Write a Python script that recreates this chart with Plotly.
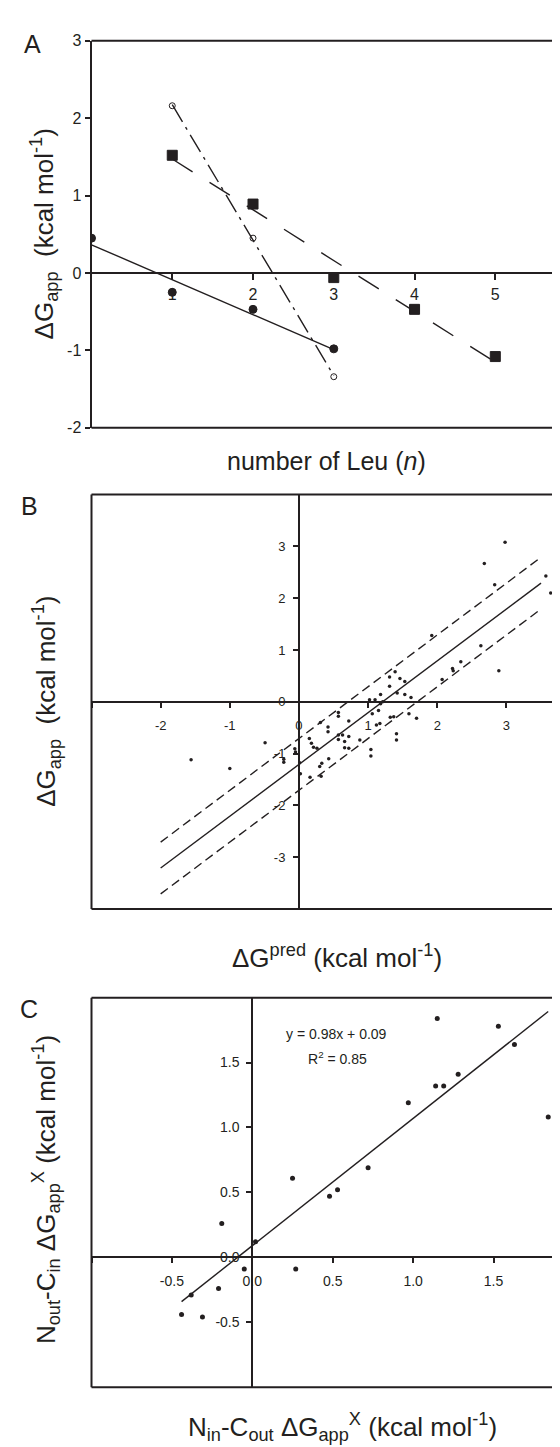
import numpy as np
import plotly.graph_objects as go

# ---------------- data ----------------
# Panel A: number of Leu vs dG_app, three series
A1_n = [0, 1, 2, 3]
A1_dg = [0.45, -0.25, -0.47, -0.98]
A2_n = [1, 2, 3]
A2_dg = [2.16, 0.45, -1.34]
A3_n = [1, 2, 3, 4, 5]
A3_dg = [1.52, 0.89, -0.06, -0.47, -1.08]
A_xticks = [1, 2, 3, 4, 5]
A_xticklabels = ["1", "2", "3", "4", "5"]
A_yticks = [-2, -1, 0, 1, 2, 3]
A_yticklabels = ["-2", "-1", "0", "1", "2", "3"]

# Panel B: dG_pred vs dG_app
B_pred = [2.98, 2.68, 2.83, 3.57, 3.64, 1.92, 2.63, 2.89, 2.34, 2.22, 2.23, 2.07,
          1.39, 1.31, 1.46, 1.53, 1.31, 1.42, 1.53, 1.62, 1.18, 1.02, 1.10, 1.21, 1.18,
          1.06, 1.15, 1.12, 1.17, 1.32, 1.37, 1.41, 1.41, 1.59, 1.70,
          1.04, 1.04, 0.88,
          0.57, 0.57, 0.31, 0.42, 0.42, 0.72,
          0.57, 0.57, 0.63, 0.66, 0.72, 0.66, 0.72,
          0.15, 0.18, 0.21, 0.26,
          -0.06, -0.05, -0.22, -0.22, -0.49, -1.00, -1.56,
          0.01, 0.02, 0.16, 0.30, 0.32, 0.33, 0.43]
B_app = [3.08, 2.67, 2.26, 2.43, 2.10, 1.28, 1.08, 0.60, 0.77, 0.64, 0.60, 0.43,
         0.58, 0.48, 0.45, 0.39, 0.30, 0.17, 0.14, 0.08, 0.14, 0.04, 0.04, 0.00, -0.04,
         -0.23, -0.17, -0.45, -0.42, -0.30, -0.29, -0.62, -0.74, -0.23, -0.32,
         -0.92, -1.05, -0.74,
         -0.21, -0.28, -0.40, -0.49, -0.58, -0.37,
         -0.64, -0.73, -0.64, -0.77, -0.67, -0.89, -0.90,
         -0.71, -0.80, -0.88, -0.90,
         -0.91, -0.97, -1.11, -1.17, -0.79, -1.29, -1.12,
         -1.18, -1.39, -1.46, -1.25, -1.44, -1.19, -1.10]
B_fit_x = [-2.0, 3.5]
B_fit_slope = 1.0
B_fit_intercept = -1.21
B_band = 0.5
B_xticks = [-3, -2, -1, 0, 1, 2, 3]
B_xticklabels = ["", "-2", "-1", "0", "1", "2", "3"]
B_yticks = [-3, -2, -1, 0, 1, 2, 3]
B_yticklabels = ["-3", "-2", "-1", "0", "1", "2", "3"]

# Panel C: Nin-Cout vs Nout-Cin dG_app^X
C_x = [1.15, 1.53, 1.63, 1.28, 1.14, 1.19, 0.97, 1.84, 0.72, 0.25, 0.53, 0.48,
       -0.19, 0.02, -0.05, 0.27, -0.21, -0.38, -0.44, -0.31]
C_y = [1.84, 1.78, 1.64, 1.41, 1.32, 1.32, 1.19, 1.08, 0.69, 0.61, 0.52, 0.47,
       0.26, 0.12, -0.09, -0.09, -0.24, -0.29, -0.44, -0.46]
C_fit_x = [-0.44, 1.84]
C_fit_slope = 0.98
C_fit_intercept = 0.09
C_xticks = [-1.0, -0.5, 0.0, 0.5, 1.0, 1.5]
C_xticklabels = ["", "-0.5", "0.0", "0.5", "1.0", "1.5"]
C_yticks = [-0.5, 0.0, 0.5, 1.0, 1.5]
C_yticklabels = ["-0.5", "0.0", "0.5", "1.0", "1.5"]

# ---------------- layout helpers ----------------
W, H = 560, 1447
INK = "#231f20"
FONT = "Liberation Sans"


def px_x(p):
    return p / W


def px_y(p):
    return 1 - p / H


def zero_pos(dom, rng, v=0.0):
    return dom[0] + (v - rng[0]) / (rng[1] - rng[0]) * (dom[1] - dom[0])


# panel geometry (pixels)
A_xdom = [px_x(83.5), 1.0]
A_ydom = [px_y(416.7), px_y(25)]
A_xr = [0, 5.9]
A_yr = [-2, 3]

B_xdom = [px_x(83.5), 1.0]
B_ydom = [px_y(903.5), px_y(484.3)]
B_xr = [-3, 3.89]
B_yr = [-4, 4]

C_xdom = [px_x(83.5), 1.0]
C_ydom = [px_y(1387.5), px_y(993.3)]
C_xr = [-1, 1.963]
C_yr = [-1, 2]

fig = go.Figure()

# ---------------- Panel A ----------------
def fit_line(xs, ys):
    k, b = np.polyfit(xs, ys, 1)
    xx = np.array([min(xs), max(xs)], dtype=float)
    return xx, k * xx + b

for xs, ys, sym, size, dash in [
    (A1_n, A1_dg, "circle", 8, "solid"),
    (A2_n, A2_dg, "circle-open", 6, "20px,6px,3px,6px"),
    (A3_n, A3_dg, "square", 10, "24px,20px"),
]:
    lx, ly = fit_line(xs, ys)
    fig.add_trace(go.Scatter(x=lx, y=ly, mode="lines", xaxis="x", yaxis="y",
                             line=dict(color=INK, width=1.4, dash=dash),
                             hoverinfo="skip"))
    fig.add_trace(go.Scatter(x=xs, y=ys, mode="markers", xaxis="x", yaxis="y",
                             marker=dict(symbol=sym, size=size, color=INK,
                                         line=dict(color=INK, width=1))))

# ---------------- Panel B ----------------
bx = np.array(B_fit_x)
for off, dash in [(0, "solid"), (B_band, "9px,5px"), (-B_band, "9px,5px")]:
    fig.add_trace(go.Scatter(x=bx, y=B_fit_slope * bx + B_fit_intercept + off,
                             mode="lines", xaxis="x2", yaxis="y2",
                             line=dict(color=INK, width=1.4, dash=dash)))
fig.add_trace(go.Scatter(x=B_pred, y=B_app, mode="markers", xaxis="x2", yaxis="y2",
                         marker=dict(size=3.5, color=INK)))

# ---------------- Panel C ----------------
cx = np.array(C_fit_x)
fig.add_trace(go.Scatter(x=cx, y=C_fit_slope * cx + C_fit_intercept, mode="lines",
                         xaxis="x3", yaxis="y3", line=dict(color=INK, width=1.4)))
fig.add_trace(go.Scatter(x=C_x, y=C_y, mode="markers", xaxis="x3", yaxis="y3",
                         marker=dict(size=5, color=INK)))

# ---------------- axes ----------------
axcommon = dict(showgrid=False, zeroline=False, showline=True, linecolor=INK,
                linewidth=2, ticks="outside", tickwidth=1.5, tickcolor=INK)

layout = dict(
    width=W, height=H, margin=dict(l=0, r=0, t=0, b=0),
    paper_bgcolor="white", plot_bgcolor="white", showlegend=False,
    font=dict(family=FONT, color=INK, size=14),
    xaxis=dict(axcommon, domain=A_xdom, range=A_xr, anchor="free",
               position=zero_pos(A_ydom, A_yr), tickvals=A_xticks,
               ticktext=A_xticklabels, ticklen=6, ticklabelstandoff=1,
               tickfont=dict(size=16)),
    yaxis=dict(axcommon, domain=A_ydom, range=A_yr, anchor="x", side="left",
               tickvals=A_yticks, ticktext=A_yticklabels, ticklen=5,
               tickfont=dict(size=16)),
    xaxis2=dict(axcommon, domain=B_xdom, range=B_xr, anchor="free",
                position=zero_pos(B_ydom, B_yr), tickvals=B_xticks,
                ticktext=B_xticklabels, ticklen=5, ticklabelstandoff=7,
                tickfont=dict(size=13)),
    yaxis2=dict(axcommon, domain=B_ydom, range=B_yr, anchor="free",
                position=zero_pos(B_xdom, B_xr), tickvals=B_yticks,
                ticktext=B_yticklabels, ticklen=5, ticklabelstandoff=5,
                tickfont=dict(size=13)),
    xaxis3=dict(axcommon, domain=C_xdom, range=C_xr, anchor="free",
                position=zero_pos(C_ydom, C_yr), tickvals=C_xticks,
                ticktext=C_xticklabels, ticklen=5, ticklabelstandoff=6,
                tickfont=dict(size=14)),
    yaxis3=dict(axcommon, domain=C_ydom, range=C_yr, anchor="free",
                position=zero_pos(C_xdom, C_xr), tickvals=C_yticks,
                ticktext=C_yticklabels, ticklen=5, ticklabelstandoff=4,
                tickfont=dict(size=14)),
)
fig.update_layout(**layout)

# ---------------- frames ----------------
shapes = []
for xdom, ydom, left in [(A_xdom, A_ydom, False), (B_xdom, B_ydom, True),
                         (C_xdom, C_ydom, True)]:
    for yy in ydom:
        shapes.append(dict(type="line", xref="paper", yref="paper",
                           x0=xdom[0], x1=1.0, y0=yy, y1=yy,
                           line=dict(color=INK, width=2)))
    if left:
        shapes.append(dict(type="line", xref="paper", yref="paper",
                           x0=xdom[0], x1=xdom[0], y0=ydom[0], y1=ydom[1],
                           line=dict(color=INK, width=2)))
fig.update_layout(shapes=shapes)

# ---------------- text ----------------
TF = 26
ann = [
    dict(text="A", x=px_x(24), y=px_y(28), font=dict(size=25)),
    dict(text="B", x=px_x(21), y=px_y(496), font=dict(size=25)),
    dict(text="C", x=px_x(21), y=px_y(1005), font=dict(size=25)),
    dict(text="ΔG<sub>app</sub>  (kcal mol<sup>-1</sup>)", x=px_x(36), y=px_y(221),
         textangle=-90, font=dict(size=TF)),
    dict(text="number of Leu (<i>n</i>)", x=px_x(318), y=px_y(450),
         font=dict(size=TF - 1)),
    dict(text="ΔG<sub>app</sub>  (kcal mol<sup>-1</sup>)", x=px_x(38), y=px_y(694),
         textangle=-90, font=dict(size=TF)),
    dict(text="ΔG<sup>pred</sup> (kcal mol<sup>-1</sup>)", x=px_x(329), y=px_y(952),
         font=dict(size=TF)),
    dict(text="N<sub>out</sub>-C<sub>in</sub> ΔG<sub>app</sub><sup>X</sup> (kcal mol<sup>-1</sup>)",
         x=px_x(38), y=px_y(1188), textangle=-90, font=dict(size=TF)),
    dict(text="N<sub>in</sub>-C<sub>out</sub> ΔG<sub>app</sub><sup>X</sup> (kcal mol<sup>-1</sup>)",
         x=px_x(334), y=px_y(1428), font=dict(size=TF)),
    dict(text="y = 0.98x + 0.09", x=px_x(328), y=px_y(1030), font=dict(size=14)),
    dict(text="R<sup>2</sup> = 0.85", x=px_x(329), y=px_y(1054), font=dict(size=14)),
]
for a in ann:
    a.setdefault("xref", "paper")
    a.setdefault("yref", "paper")
    a.setdefault("showarrow", False)
    a.setdefault("xanchor", "center")
    a.setdefault("yanchor", "middle")
fig.update_layout(annotations=ann)

fig.write_html("out.html")
